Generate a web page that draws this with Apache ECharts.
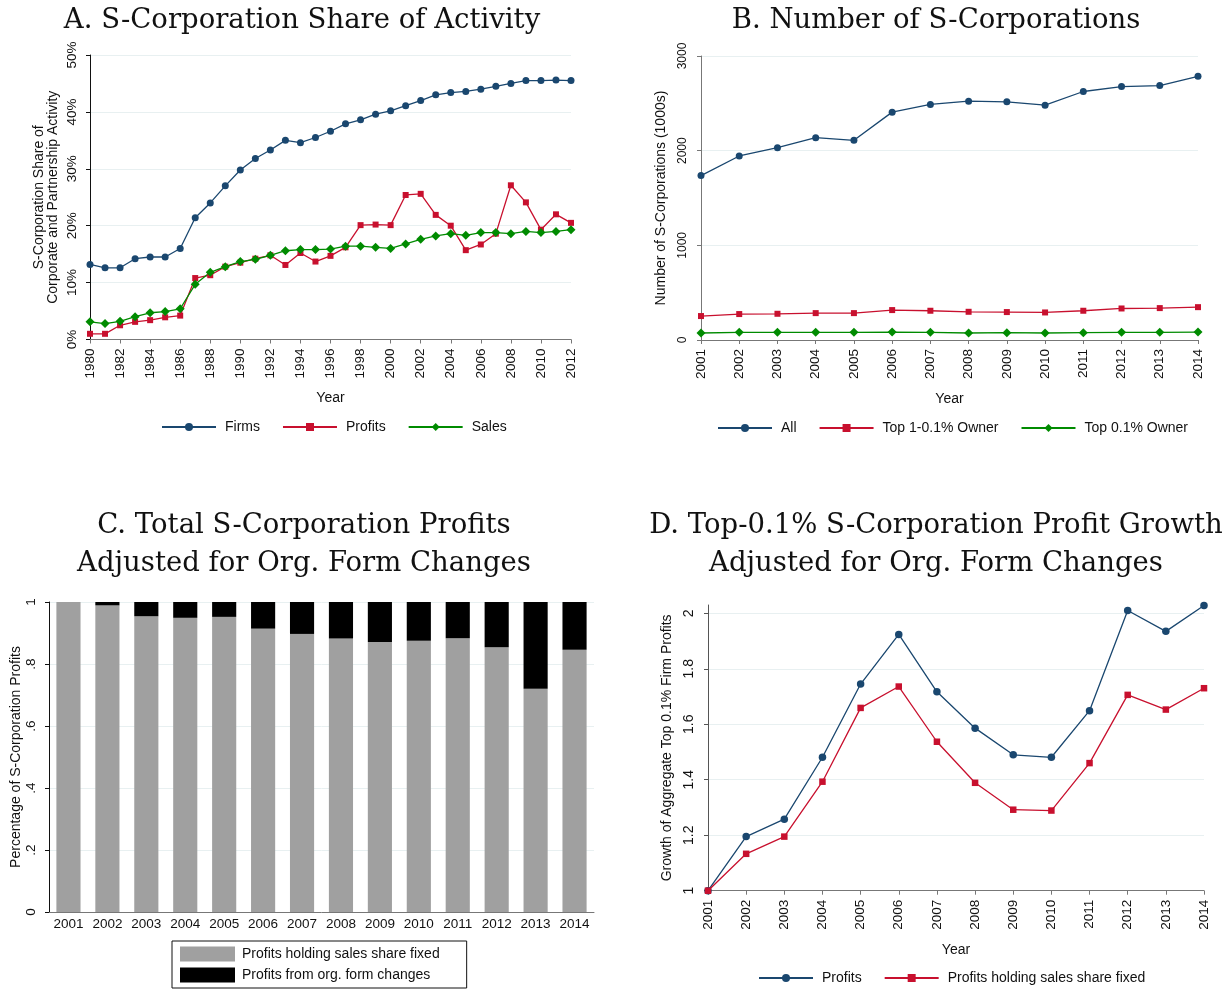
<!DOCTYPE html>
<html>
<head>
<meta charset="utf-8">
<script src="https://cdn.jsdelivr.net/npm/echarts@6/dist/echarts.min.js"></script>
<style>
  html, body { margin: 0; padding: 0; background: #fff; }
  #chart { width: 1230px; height: 989px; }
</style>
</head>
<body>
<div id="chart"></div>
<script>
// Panel A: S-corporation share of activity (percent)
const yearsA = ["1980", "1981", "1982", "1983", "1984", "1985", "1986", "1987", "1988", "1989", "1990",
  "1991", "1992", "1993", "1994", "1995", "1996", "1997", "1998", "1999", "2000", "2001", "2002",
  "2003", "2004", "2005", "2006", "2007", "2008", "2009", "2010", "2011", "2012"];
const firmsShare = [13.2, 12.6, 12.6, 14.2, 14.5, 14.5, 16.0, 21.4, 24.0, 27.0, 29.8, 31.8, 33.3, 35.0,
  34.6, 35.5, 36.6, 37.9, 38.6, 39.6, 40.2, 41.1, 42.0, 43.0, 43.4, 43.6, 44.0, 44.5, 45.0, 45.5, 45.5, 45.6, 45.5];
const profitsShare = [1.0, 1.0, 2.5, 3.1, 3.4, 3.9, 4.2, 10.8, 11.3, 12.8, 13.5, 14.2, 14.8, 13.1,
  15.2, 13.7, 14.7, 16.2, 20.1, 20.2, 20.1, 25.4, 25.6, 21.9, 20.0, 15.7, 16.7, 18.6, 27.1, 24.1, 19.3, 22.0, 20.5];
const salesShare = [3.1, 2.8, 3.2, 4.0, 4.7, 4.9, 5.4, 9.7, 11.8, 12.8, 13.7, 14.1, 14.8, 15.6,
  15.8, 15.8, 15.9, 16.4, 16.4, 16.2, 16.0, 16.8, 17.6, 18.2, 18.6, 18.3, 18.8, 18.8, 18.6, 19.0, 18.8, 19.0, 19.3];

// Panels B-D: 2001-2014
const yearsB = ["2001", "2002", "2003", "2004", "2005", "2006", "2007", "2008", "2009", "2010",
  "2011", "2012", "2013", "2014"];
const countAll = [1737, 1944, 2032, 2137, 2109, 2407, 2488, 2523, 2516, 2481, 2625, 2677, 2688, 2786];
const countTop1 = [253, 274, 277, 284, 284, 316, 309, 298, 295, 291, 309, 333, 337, 347];
const countTop01 = [74, 81, 81, 81, 81, 84, 81, 74, 77, 74, 77, 81, 81, 84];

const fixedShare = [1.0, 0.989, 0.954, 0.949, 0.952, 0.914, 0.897, 0.882, 0.871, 0.875, 0.883, 0.854, 0.720, 0.846];
const orgShare = [0.0, 0.011, 0.046, 0.051, 0.048, 0.086, 0.103, 0.118, 0.129, 0.125, 0.117, 0.146, 0.280, 0.154];

const growthProfits = [1.0, 1.195, 1.258, 1.481, 1.745, 1.924, 1.717, 1.586, 1.490, 1.481, 1.649, 2.010, 1.935, 2.028];
const growthFixed = [1.0, 1.133, 1.195, 1.393, 1.659, 1.736, 1.537, 1.389, 1.292, 1.289, 1.460, 1.706, 1.653, 1.730];

const NAVY = "#1a476f";
const RED = "#c8102e";
const GREEN = "#008b00";
const GRID = "#e8f0f1";
const SANS = "Liberation Sans, Arial, sans-serif";
const SERIF = "DejaVu Serif, serif";

function titleOpt(text, x, top) {
  return {
    text: text,
    left: x,
    top: top,
    textAlign: "center",
    textStyle: { fontFamily: SERIF, fontSize: 27.5, fontWeight: "normal", color: "#111", lineHeight: 38 },
  };
}

function catAxis(grid, data, interval, name, axisColor) {
  return {
    type: "category",
    gridIndex: grid,
    data: data,
    boundaryGap: false,
    name: name,
    nameLocation: "middle",
    nameGap: 52,
    nameTextStyle: { fontFamily: SANS, fontSize: 14, color: "#111" },
    axisLine: { lineStyle: { color: axisColor, width: 1 } },
    axisTick: { alignWithLabel: true, interval: interval, length: 4, lineStyle: { color: axisColor } },
    axisLabel: { interval: interval, rotate: 90, margin: 9, fontFamily: SANS, fontSize: 13.5, color: "#111" },
    splitLine: { show: false },
  };
}

function lineSeries(name, x, y, data, color, symbol, size) {
  return {
    name: name,
    type: "line",
    xAxisIndex: x,
    yAxisIndex: y,
    data: data,
    symbol: symbol,
    symbolSize: size,
    lineStyle: { color: color, width: 1.3 },
    itemStyle: { color: color },
    emphasis: { disabled: true },
  };
}

function legendOpt(names, left, top) {
  return {
    data: names,
    left: left,
    top: top,
    itemWidth: 54,
    itemHeight: 10,
    itemGap: 22,
    formatter: (n) => n.slice(3),
    textStyle: { fontFamily: SANS, fontSize: 14, color: "#111", padding: [0, 0, 0, 4], lineHeight: 16 },
    selectedMode: false,
  };
}

const chart = echarts.init(document.getElementById("chart"), null, { renderer: "canvas" });

const option = {
  animation: false,
  backgroundColor: "#fff",
  title: [
    titleOpt("A. S-Corporation Share of Activity", 297, -3),
    titleOpt("B. Number of S-Corporations", 931, -3),
    titleOpt("C. Total S-Corporation Profits\nAdjusted for Org. Form Changes", 299, 502),
    titleOpt("D. Top-0.1% S-Corporation Profit Growth\nAdjusted for Org. Form Changes", 931, 502),
  ],
  legend: [
    legendOpt(["A: Firms", "A: Profits", "A: Sales"], 156, 414),
    legendOpt(["B: All", "B: Top 1-0.1% Owner", "B: Top 0.1% Owner"], 712, 415),
    {
      data: ["C: Profits holding sales share fixed", "C: Profits from org. form changes"],
      orient: "vertical",
      left: 172,
      top: 941,
      height: 60,
      icon: "rect",
      itemWidth: 55,
      itemHeight: 15,
      itemGap: 5,
      padding: [5, 27, 5, 8],
      borderColor: "#111",
      borderWidth: 1,
      formatter: (n) => n.slice(3),
      textStyle: { fontFamily: SANS, fontSize: 14, color: "#111", padding: [0, 0, 0, 2], lineHeight: 16 },
      selectedMode: false,
    },
    legendOpt(["D: Profits", "D: Profits holding sales share fixed"], 753, 965),
  ],
  grid: [
    { left: 90, top: 55, width: 481, height: 284.5 },
    { left: 701, top: 56, width: 497, height: 284 },
    { left: 49, top: 602, width: 545, height: 310 },
    { left: 708, top: 605, width: 496, height: 285.7 },
  ],
  xAxis: [
    catAxis(0, yearsA, 1, "Year", "#777"),
    catAxis(1, yearsB, 0, "Year", "#777"),
    {
      type: "category",
      gridIndex: 2,
      data: yearsB,
      axisLine: { lineStyle: { color: "#777" } },
      axisTick: { show: false },
      axisLabel: { interval: 0, margin: 5, fontFamily: SANS, fontSize: 13.5, color: "#111" },
    },
    catAxis(3, yearsB, 0, "Year", "#777"),
  ],
  yAxis: [
    {
      type: "value",
      gridIndex: 0,
      min: 0,
      max: 50,
      interval: 10,
      name: "S-Corporation Share of\nCorporate and Partnership Activity",
      nameLocation: "middle",
      nameGap: 30,
      nameTextStyle: { fontFamily: SANS, fontSize: 14, color: "#111", lineHeight: 14 },
      axisLine: { show: true, lineStyle: { color: "#111" } },
      axisTick: { show: true, length: 4, lineStyle: { color: "#111" } },
      axisLabel: { rotate: 90, margin: 11, formatter: "{value}%", fontFamily: SANS, fontSize: 13.5, color: "#111" },
      splitLine: { lineStyle: { color: GRID, width: 1 } },
    },
    {
      type: "value",
      gridIndex: 1,
      min: 0,
      max: 3000,
      interval: 1000,
      name: "Number of S-Corporations (1000s)",
      nameLocation: "middle",
      nameGap: 33,
      nameTextStyle: { fontFamily: SANS, fontSize: 14, color: "#111" },
      axisLine: { show: true, lineStyle: { color: "#777" } },
      axisTick: { show: true, length: 4, lineStyle: { color: "#777" } },
      axisLabel: {
        rotate: 90,
        margin: 12,
        fontFamily: SANS,
        fontSize: 12,
        color: "#111",
        formatter: (v) => String(v),
      },
      splitLine: { lineStyle: { color: GRID, width: 1 } },
    },
    {
      type: "value",
      gridIndex: 2,
      min: 0,
      max: 1,
      interval: 0.2,
      name: "Percentage of S-Corporation Profits",
      nameLocation: "middle",
      nameGap: 26,
      nameTextStyle: { fontFamily: SANS, fontSize: 14, color: "#111" },
      axisLine: { show: true, lineStyle: { color: "#111" } },
      axisTick: { show: true, length: 4, lineStyle: { color: "#111" } },
      axisLabel: {
        rotate: 90,
        margin: 11,
        fontFamily: SANS,
        fontSize: 13.5,
        color: "#111",
        formatter: (v) => (v === 0 ? "0" : v >= 1 ? "1" : v.toFixed(1).replace("0.", ".")),
      },
      splitLine: { lineStyle: { color: GRID, width: 1 } },
    },
    {
      type: "value",
      gridIndex: 3,
      min: 1,
      max: 2.03,
      interval: 0.2,
      name: "Growth of Aggregate Top 0.1% Firm Profits",
      nameLocation: "middle",
      nameGap: 34,
      nameTextStyle: { fontFamily: SANS, fontSize: 14, color: "#111" },
      axisLine: { show: true, lineStyle: { color: "#555" } },
      axisTick: { show: true, length: 4, lineStyle: { color: "#555" } },
      axisLabel: {
        rotate: 90,
        margin: 12,
        showMaxLabel: false,
        fontFamily: SANS,
        fontSize: 14,
        color: "#111",
        formatter: (v) => (v > 2.001 ? "" : String(parseFloat(v.toFixed(1)))),
      },
      splitLine: { showMaxLine: false, lineStyle: { color: GRID, width: 1 } },
    },
  ],
  series: [
    lineSeries("A: Firms", 0, 0, firmsShare, NAVY, "circle", 7),
    lineSeries("A: Profits", 0, 0, profitsShare, RED, "rect", 6),
    lineSeries("A: Sales", 0, 0, salesShare, GREEN, "diamond", 9),
    lineSeries("B: All", 1, 1, countAll, NAVY, "circle", 7),
    lineSeries("B: Top 1-0.1% Owner", 1, 1, countTop1, RED, "rect", 6),
    lineSeries("B: Top 0.1% Owner", 1, 1, countTop01, GREEN, "diamond", 9),
    {
      name: "C: Profits holding sales share fixed",
      type: "bar",
      xAxisIndex: 2,
      yAxisIndex: 2,
      stack: "c",
      data: fixedShare,
      barCategoryGap: "38%",
      itemStyle: { color: "#a0a0a0" },
      emphasis: { disabled: true },
    },
    {
      name: "C: Profits from org. form changes",
      type: "bar",
      xAxisIndex: 2,
      yAxisIndex: 2,
      stack: "c",
      data: orgShare,
      barCategoryGap: "38%",
      itemStyle: { color: "#000" },
      emphasis: { disabled: true },
    },
    lineSeries("D: Profits", 3, 3, growthProfits, NAVY, "circle", 7.5),
    lineSeries("D: Profits holding sales share fixed", 3, 3, growthFixed, RED, "rect", 6.5),
  ],
};

chart.setOption(option);
window.addEventListener("resize", function () {
  chart.resize();
});
</script>
</body>
</html>
